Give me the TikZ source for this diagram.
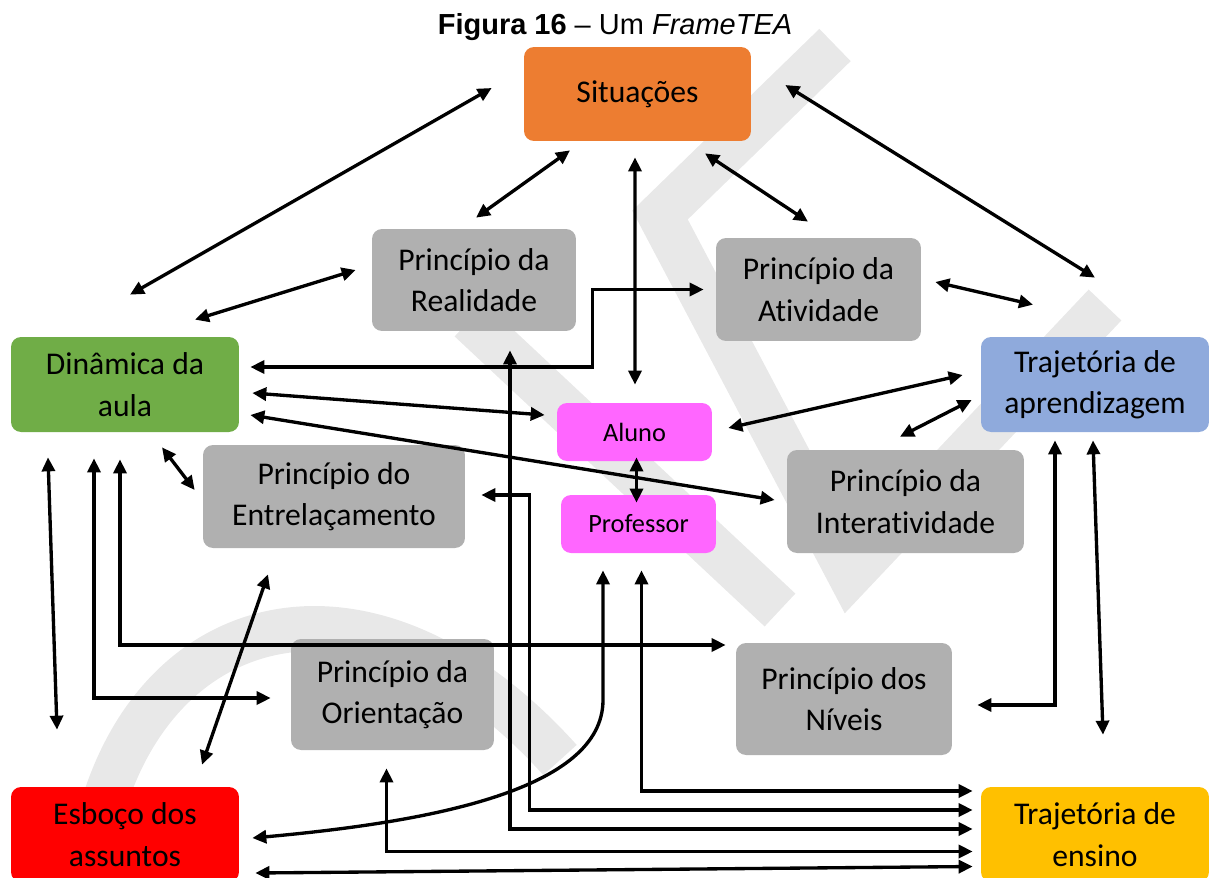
\documentclass[tikz,border=0pt]{standalone}
\usepackage{fontspec}
\setmainfont{Carlito}[Ligatures={NoCommon}]
\newfontfamily\titlefont{Liberation Sans}
\usetikzlibrary{arrows.meta}

\definecolor{sitorange}{HTML}{ED7D31}
\definecolor{boxgray}{HTML}{B0B0B0}
\definecolor{dingreen}{HTML}{70AD47}
\definecolor{trapblue}{HTML}{8FAADC}
\definecolor{boxpink}{HTML}{FF66FF}
\definecolor{esbred}{HTML}{FF0000}
\definecolor{ensgold}{HTML}{FFC000}
\definecolor{wmgray}{HTML}{E8E8E8}

\begin{document}
\begin{tikzpicture}[x=0.02cm, y=-0.02cm,
  every node/.style={rectangle, rounded corners=0.2cm, align=center, inner sep=0pt, font=\fontsize{18}{23.5}\selectfont},
  grey/.style={fill=boxgray},
  small/.style={fill=boxpink, font=\fontsize{15}{18}\selectfont, minimum width=3.1cm, minimum height=1.16cm},
  link/.style={<->, line width=1.9pt},
  >={Triangle[length=0.28cm, width=0.26cm]}]
\useasboundingbox (0,0) rectangle (1211,877);

% watermark
\draw[wmgray, line width=0.9cm] (835,45) -- (660,215) -- (850,575) -- (1105,305);
\draw[wmgray, line width=0.9cm] (470,320) -- (780,610);
\draw[wmgray, line width=0.9cm] (105,800) .. controls (170,600) and (380,560) .. (560,760);

\node (title) at (615,27) {\titlefont\fontsize{16.5}{19}\selectfont\textbf{Figura 16} – Um \textit{FrameTEA}};

\node[fill=sitorange, minimum width=4.54cm, minimum height=1.88cm] (sit) at (637.5,94) {Situações};
\node[grey, minimum width=4.08cm, minimum height=2.04cm] (real) at (474,280) {Princípio da\\Realidade};
\node[grey, minimum width=4.1cm, minimum height=2.06cm] (ativ) at (818.5,289.5) {Princípio da\\Atividade};
\node[fill=dingreen, minimum width=4.56cm, minimum height=1.9cm] (din) at (125,384.5) {Dinâmica da\\aula};
\node[fill=trapblue, minimum width=4.56cm, minimum height=1.9cm] (trap) at (1095,384.5) {Trajetória de\\aprendizagem};
\node[small] (alu) at (634.5,432) {Aluno};
\node[small] (prof) at (638.5,524) {Professor};
\node[grey, minimum width=5.24cm, minimum height=2.06cm] (entr) at (334,496.5) {Princípio do\\Entrelaçamento};
\node[grey, minimum width=4.74cm, minimum height=2.06cm] (inter) at (905.5,501.5) {Princípio da\\Interatividade};
\node[grey, minimum width=4.06cm, minimum height=2.22cm] (orie) at (392.5,694.5) {Princípio da\\Orientação};
\node[grey, minimum width=4.32cm, minimum height=2.24cm] (niv) at (844,699) {Princípio dos\\Níveis};
\node[fill=esbred, minimum width=4.56cm, minimum height=1.9cm] (esb) at (125,834.5) {Esboço dos\\assuntos};
\node[fill=ensgold, minimum width=4.56cm, minimum height=1.9cm] (ens) at (1095,834.5) {Trajetória de\\ensino};

% Situações
\draw[link] ([shift={(5,-42)}]din.north) -- ([shift={(-32,-6)}]sit.west);
\draw[link] ([shift={(34,-9)}]sit.east) -- ([shift={(0,-59)}]trap.north);
\draw[link] ([shift={(-67.5,9)}]sit.south) -- ([shift={(2,-11)}]real.north);
\draw[link] ([shift={(67.5,12)}]sit.south) -- ([shift={(-10.5,-16)}]ativ.north);
\draw[link] ([shift={(-2.5,16)}]sit.south) -- ([shift={(0.5,-18)}]alu.north);

% upper row
\draw[link] ([shift={(-16,-10)}]real.west) -- ([shift={(70,-17)}]din.north);
\draw[link] ([shift={(14,-7.5)}]ativ.east) -- ([shift={(-62,-32)}]trap.north);
\draw[link] ([shift={(11,-17.5)}]din.east) -- ++(342,0) |- ([shift={(-12,0)}]ativ.west);
\draw[link] ([shift={(13,8.5)}]din.east) -- ([shift={(-12,-17)}]alu.west);
\draw[link] ([shift={(11,30.5)}]din.east) -- ([shift={(-12,-1.5)}]inter.west);
\draw[link] ([shift={(16,-4)}]alu.east) -- ([shift={(-18,-9.5)}]trap.west);
\draw[link] ([shift={(-5.5,-13)}]inter.north) -- ([shift={(-9,15.5)}]trap.west);
\draw[link] ([shift={(2,-4)}]alu.south) -- ([shift={(-2,8)}]prof.north);

% Dinâmica da aula
\draw[link] ([shift={(37,15)}]din.south) -- ([shift={(-8,-6.5)}]entr.west);
\draw[link] ([shift={(-77,25)}]din.south) -- ([shift={(-68,-57)}]esb.north);
\draw[link] ([shift={(-31,26)}]din.south) |- ([shift={(-20,3.5)}]orie.west);
\draw[link] ([shift={(-5,27)}]din.south) |- ([shift={(-10,-54)}]niv.west);
\draw[link] ([shift={(-66,26)}]entr.south) -- ([shift={(77,-22)}]esb.north);

% Esboço dos assuntos
\draw[link] ([shift={(13,3.5)}]esb.east) .. controls (430,822) and (603,790) .. (603,700) -- ([shift={(-35.5,17)}]prof.south);
\draw[link] ([shift={(16,38.5)}]esb.east) -- ([shift={(-8,32)}]ens.west);

% Trajetória de ensino
\draw[link] ([shift={(3,17)}]prof.south) |- ([shift={(-8,-43.5)}]ens.west);
\draw[link] ([shift={(16,-1.5)}]entr.east) -- ++(48,0) |- ([shift={(-8,-24.5)}]ens.west);
\draw[link] ([shift={(36,19)}]real.south) |- ([shift={(-8,-5.5)}]ens.west);
\draw[link] ([shift={(-6,18)}]orie.south) |- ([shift={(-8,17)}]ens.west);
\draw[link] ([shift={(-2,8)}]trap.south) -- ([shift={(8,-52)}]ens.north);
\draw[link] ([shift={(-40,8)}]trap.south) |- ([shift={(25,6)}]niv.east);
\end{tikzpicture}
\end{document}
